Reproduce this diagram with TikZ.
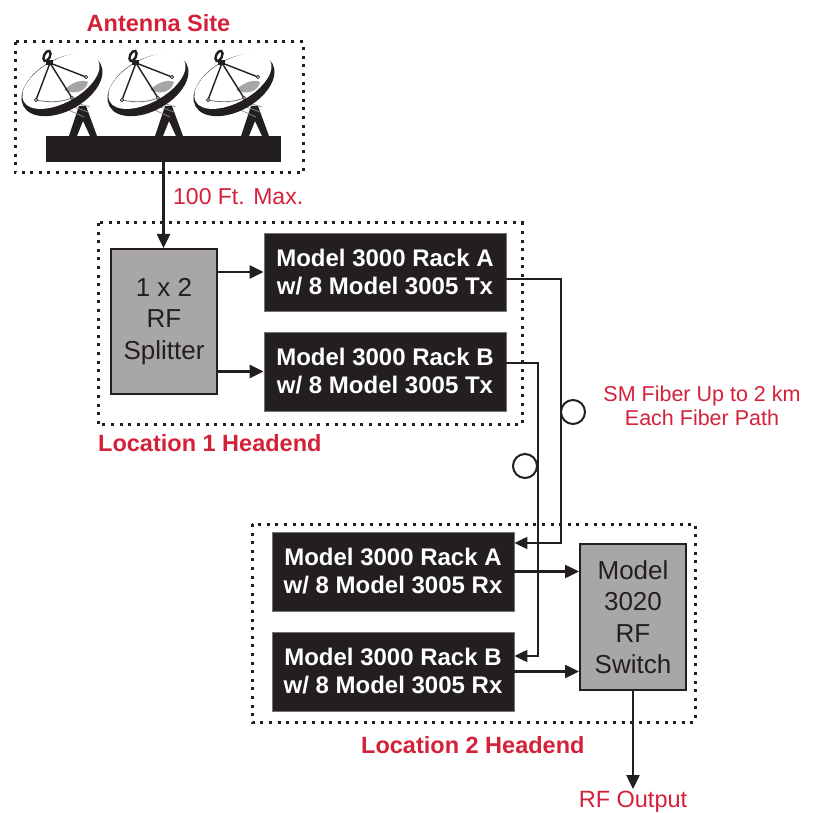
\documentclass[tikz,border=0pt]{standalone}
\usepackage{fontspec}
\setmainfont{Liberation Sans}
\usetikzlibrary{arrows.meta}
\definecolor{labred}{RGB}{212,33,58}
\definecolor{boxblack}{RGB}{35,31,32}
\definecolor{boxgray}{RGB}{168,167,166}
\newcommand\dishpic[1]{%
\begin{scope}[shift={(#1,0)}]
 \fill[boxblack] (79,106) -- (86,106) -- (97,136) -- (90,136) -- (83,121) -- (77,136) -- (69,136) -- cycle;
 \draw[black!45,line width=0.7pt] (64,108) -- (84,117) (66,104) -- (88,112) (70,101) -- (90,107);
 \fill[boxblack,rotate around={29:(62,85)}] (62,85) ellipse [x radius=44,y radius=26];
 \fill[white,rotate around={29:(62,85)}] (63,81) ellipse [x radius=42.5,y radius=21.5];
 \fill[black!35] (64,90) .. controls (72,82) and (82,79) .. (88,82) .. controls (86,92) and (74,95) .. cycle;
 \draw[black!55,line width=0.8pt] (36,100) .. controls (50,103) and (62,102) .. (72,98);
 \draw[boxblack,line width=1.4pt] (36,100) -- (50,63) -- (86,77) (50,63) -- (72,98);
 \foreach \p in {(36,100),(72,98),(86,77)} \filldraw[fill=white,draw=boxblack,line width=0.8pt] \p circle (1.6pt);
 \draw[boxblack,line width=2.4pt,rotate around={-25:(47,56)}] (47,56) ellipse [x radius=3,y radius=5.5];
 \fill[boxblack] (46,60) rectangle (53,65);
\end{scope}}
\begin{document}
\begin{tikzpicture}[x=1pt,y=-1pt,
  blackbox/.style={draw=black!55, line width=0.8pt, fill=boxblack, text=white,
    font=\bfseries\fontsize{24}{28}\selectfont, align=center, inner sep=0pt,
    minimum width=242pt, minimum height=79pt},
  graybox/.style={draw=boxblack, line width=2pt, fill=boxgray, text=boxblack,
    font=\fontsize{26}{31.5}\selectfont, align=center, inner sep=0pt,
    minimum width=106pt, minimum height=146pt},
  conn/.style={draw=boxblack, line width=2.5pt, -{Triangle[length=14pt,width=13pt]}},
  fiber/.style={draw=boxblack, line width=2pt, -{Triangle[length=13pt,width=12pt]}},
  dotbox/.style={draw=boxblack, line width=3pt, dash pattern=on 3pt off 5.6pt},
  redbold/.style={text=labred, font=\bfseries\fontsize{23.5}{28}\selectfont, inner sep=0pt},
  redreg/.style={text=labred, font=\fontsize{23}{27}\selectfont, inner sep=0pt},
  loop/.style={circle, draw=boxblack, line width=2pt, minimum size=24pt, inner sep=0pt}]
\useasboundingbox (0,0) rectangle (815,813);

% Antenna site
\dishpic{0}
\dishpic{86}
\dishpic{172}
\node[fill=boxblack, inner sep=0pt, minimum width=235pt, minimum height=26pt] (base) at (163.5,149) {};
\draw[dotbox] (15,42) rectangle (303,173);
\node[redbold, anchor=base] (lsite) at (158.5,32) {Antenna Site};

% Location 1
\draw[dotbox] (98,223) rectangle (522,425);
\node[graybox, minimum height=145pt] (splitter) at (164,321.5) {1 x 2\\RF\\Splitter};
\node[blackbox, minimum height=78pt] (txa) at (385,272) {Model 3000 Rack A\\w/ 8 Model 3005 Tx};
\node[blackbox] (txb) at (385,371.5) {Model 3000 Rack B\\w/ 8 Model 3005 Tx};
\node[redbold, anchor=base west] (lloc1) at (98,452) {Location 1 Headend};

% Location 2
\draw[dotbox] (252,524) rectangle (695,722);
\node[blackbox] (rxa) at (393,571.5) {Model 3000 Rack A\\w/ 8 Model 3005 Rx};
\node[blackbox] (rxb) at (393,671.5) {Model 3000 Rack B\\w/ 8 Model 3005 Rx};
\node[graybox] (switch) at (633,617) {Model\\3020\\RF\\Switch};
\node[redbold, anchor=base west] (lloc2) at (361,753) {Location 2 Headend};

% connectors
\draw[conn] (base.south) -- (base.south |- splitter.north);
\node[redreg, anchor=base west] (lmax) at (173,205) {100 Ft. Max.};
\draw[conn] (txa.west -| splitter.east) -- (txa.west);
\draw[conn] (txb.west -| splitter.east) -- (txb.west);

\draw[fiber] ([yshift=-7pt]txa.east) -- ++(55,0) |- ([yshift=28.5pt]rxa.east);
\draw[fiber] ([yshift=8.5pt]txb.east) -- ++(32,0) |- ([yshift=15.5pt]rxb.east);
\node[loop] (loopa) at (573,412) {};
\node[loop] (loopb) at (525,466) {};
\node[text=labred, font=\fontsize{21.5}{24}\selectfont, align=center, inner sep=0pt] (lfiber) at (702,406) {SM Fiber Up to 2 km\\Each Fiber Path};

\draw[conn] (rxa.east) -- (rxa.east -| switch.west);
\draw[conn] (rxb.east) -- (rxb.east -| switch.west);
\coordinate (out) at (633,789);
\draw[conn] (switch.south) -- (out);
\node[redreg, font=\fontsize{23.5}{27}\selectfont, anchor=base] (lout) at (633,807) {RF Output};
\end{tikzpicture}
\end{document}
